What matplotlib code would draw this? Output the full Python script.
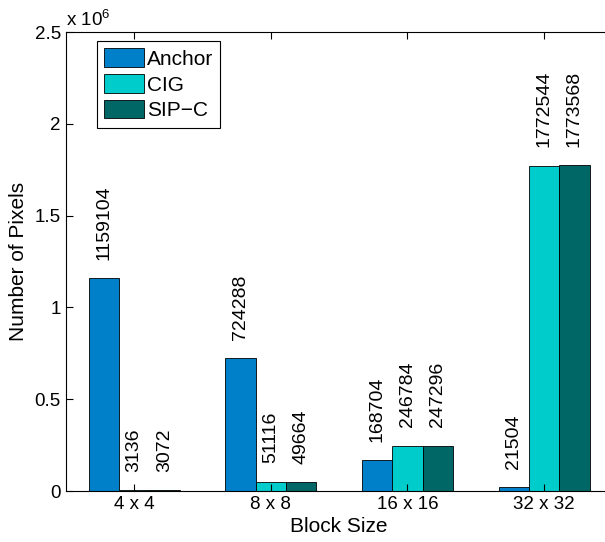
import numpy as np
import matplotlib
matplotlib.use('Agg')
import matplotlib.pyplot as plt

categories = ['4 x 4', '8 x 8', '16 x 16', '32 x 32']
series_names = ['Anchor', 'CIG', 'SIP\u2212C']
anchor = [1159104, 724288, 168704, 21504]
cig = [3136, 51116, 246784, 1772544]
sipc = [3072, 49664, 247296, 1773568]
colors = ['#0080C8', '#00CCCC', '#006666']

plt.rcParams['font.family'] = ['Liberation Sans', 'DejaVu Sans']
plt.rcParams['mathtext.default'] = 'regular'

fig = plt.figure(figsize=(6.05, 5.42), dpi=100)
ax = fig.add_axes([65.7 / 605, 51 / 542, (612.5 - 65.7) / 605, 459 / 542])

x = np.arange(1, len(categories) + 1)
w = 0.222
for i, (vals, name) in enumerate(zip([anchor, cig, sipc], series_names)):
    pos = x + (i - 1) * w
    ax.bar(pos, vals, width=w, color=colors[i], edgecolor='black',
           linewidth=0.6, label=name)
    # value labels above the bars
    for p, v in zip(pos, vals):
        ax.text(p, v + 1e5, str(v), rotation=90, ha='center', va='bottom',
                fontsize=14)

ax.set_xlim(0.5, 4.5)
ax.set_ylim(0, 2.5e6)
ax.set_xticks(x)
ax.set_xticklabels(categories)
ax.set_yticks([0, 0.5e6, 1e6, 1.5e6, 2e6, 2.5e6])
ax.set_yticklabels(['0', '0.5', '1', '1.5', '2', '2.5'])
ax.tick_params(direction='in', length=5, labelsize=13.5, top=True, right=True,
               width=0.8, pad=3.5)
for s in ax.spines.values():
    s.set_linewidth(0.8)

ax.set_xlabel('Block Size', fontsize=15, labelpad=3)
ax.set_ylabel('Number of Pixels', fontsize=15, labelpad=5)
ax.text(0.0, 1.005, r'x 10$^{6}$', transform=ax.transAxes, fontsize=13.5,
        ha='left', va='bottom')

leg = ax.legend(loc='upper left', bbox_to_anchor=(0.057, 0.98),
                borderaxespad=0, fontsize=15, fancybox=False,
                edgecolor='black', framealpha=1, handlelength=1.9,
                handleheight=1.0, labelspacing=0.25, handletextpad=0.15,
                borderpad=0.35)
leg.get_frame().set_linewidth(0.8)

fig.savefig('out.png', dpi=100)
